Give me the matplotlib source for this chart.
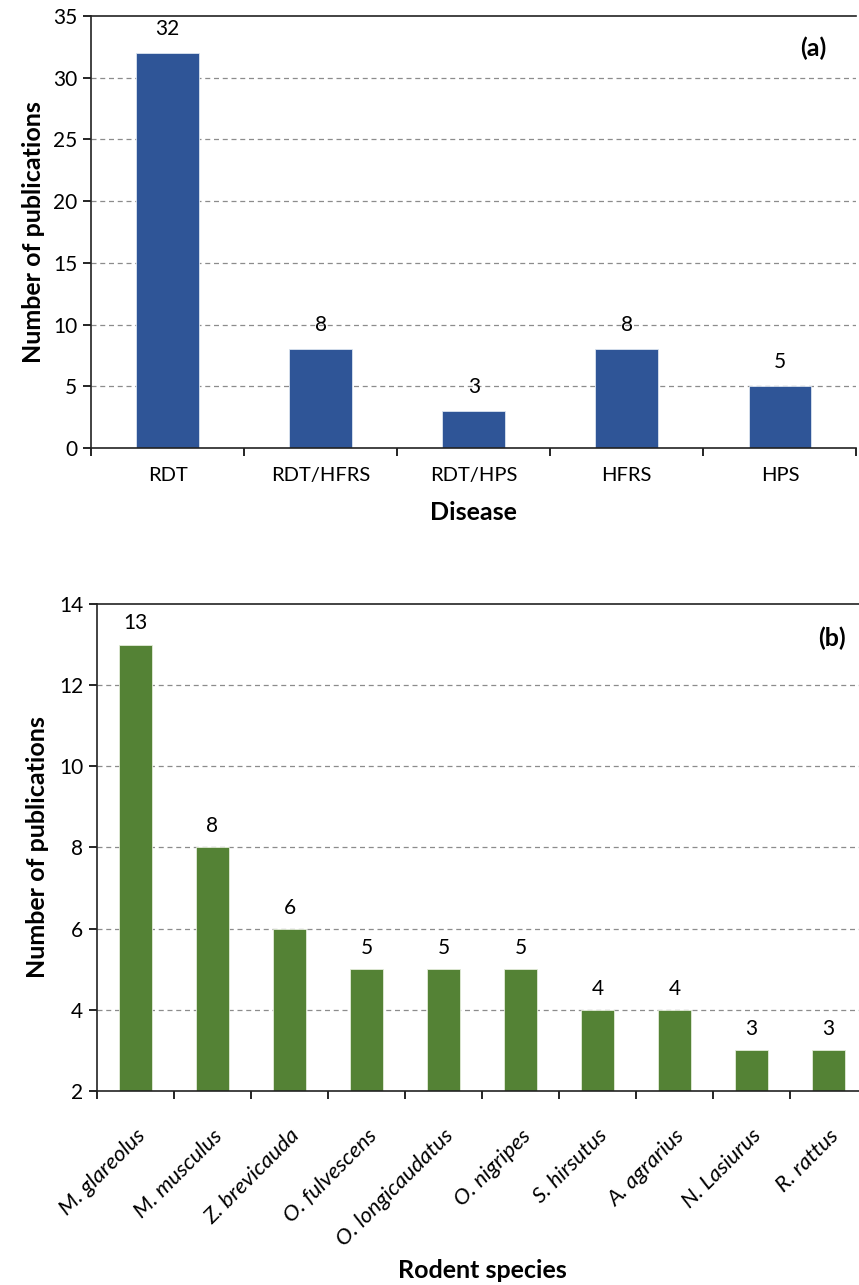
import numpy as np
import matplotlib
matplotlib.use("Agg")
import matplotlib.pyplot as plt

plt.rcParams['font.family'] = ['Lato', 'DejaVu Sans']

diseases = ["RDT", "RDT/HFRS", "RDT/HPS", "HFRS", "HPS"]
disease_counts = [32, 8, 3, 8, 5]

species = ["M. glareolus", "M. musculus", "Z. brevicauda", "O. fulvescens",
           "O. longicaudatus", "O. nigripes", "S. hirsutus", "A. agrarius",
           "N. Lasiurus", "R. rattus"]
species_counts = [13, 8, 6, 5, 5, 5, 4, 4, 3, 3]

blue = "#2F5597"
green = "#548235"

fig = plt.figure(figsize=(8.59, 12.85), dpi=100)


def style_axes(ax, n, yticks):
    ax.set_xlim(-0.5, n - 0.5)
    ax.set_yticks(yticks)
    ax.set_ylim(yticks[0], yticks[-1])
    ax.set_xticks(np.arange(n + 1) - 0.5)
    ax.set_xticklabels([])
    ax.set_xticks(np.arange(n), minor=True)
    ax.tick_params(axis='x', which='major', length=6, width=1.2, direction='out')
    ax.tick_params(axis='x', which='minor', length=0, labelsize=14.5, pad=14)
    ax.tick_params(axis='y', length=6, width=1.2, labelsize=15, pad=4)
    for t in yticks[1:-1]:
        ax.axhline(t, color='#8c8c8c', lw=0.9, ls=(0, (4, 3)), zorder=0)
    ax.spines['right'].set_visible(False)
    for s in ['left', 'bottom', 'top']:
        ax.spines[s].set_linewidth(1.2)
        ax.spines[s].set_color('#222222')
    ax.set_axisbelow(True)


# (a) disease
ax1 = fig.add_axes([0.106, 0.6514, 0.891, 0.3362])
x1 = np.arange(len(diseases))
ax1.bar(x1, disease_counts, width=0.41, color=blue, edgecolor='#dbe4f0', linewidth=0.6, zorder=2)
style_axes(ax1, len(diseases), list(range(0, 36, 5)))
ax1.set_xticks(x1, minor=True)
ax1.set_xticklabels(diseases, minor=True)
for xi, v in zip(x1, disease_counts):
    ax1.annotate(str(v), (xi, v), xytext=(0, 10), textcoords='offset points',
                 ha='center', va='bottom', fontsize=15)
ax1.set_ylabel("Number of publications", fontsize=18, fontweight='bold', labelpad=6)
ax1.set_xlabel("Disease", fontsize=18, fontweight='bold', labelpad=12)
ax1.text(0.943, 0.925, "(a)", transform=ax1.transAxes, fontsize=18,
         fontweight='bold', ha='center', va='center')

# (b) rodent species
ax2 = fig.add_axes([0.1129, 0.151, 0.8964, 0.379])
x2 = np.arange(len(species))
ax2.bar(x2, species_counts, width=0.42, color=green, edgecolor='#e3ecd9', linewidth=0.6, zorder=2)
style_axes(ax2, len(species), list(range(2, 15, 2)))
ax2.set_xticks(x2, minor=True)
ax2.set_xticklabels(species, minor=True, rotation=45, ha='right',
                    rotation_mode='anchor', style='italic')
ax2.tick_params(axis='x', which='minor', pad=25, labelsize=16)
for xi, v in zip(x2, species_counts):
    ax2.annotate(str(v), (xi, v), xytext=(0, 8), textcoords='offset points',
                 ha='center', va='bottom', fontsize=15)
ax2.set_ylabel("Number of publications", fontsize=18, fontweight='bold', labelpad=7)
ax2.set_xlabel("Rodent species", fontsize=18, fontweight='bold')
ax2.xaxis.set_label_coords(0.5, -0.345)
ax2.text(0.955, 0.93, "(b)", transform=ax2.transAxes, fontsize=18,
         fontweight='bold', ha='center', va='center')

fig.savefig("out.png", dpi=100)
